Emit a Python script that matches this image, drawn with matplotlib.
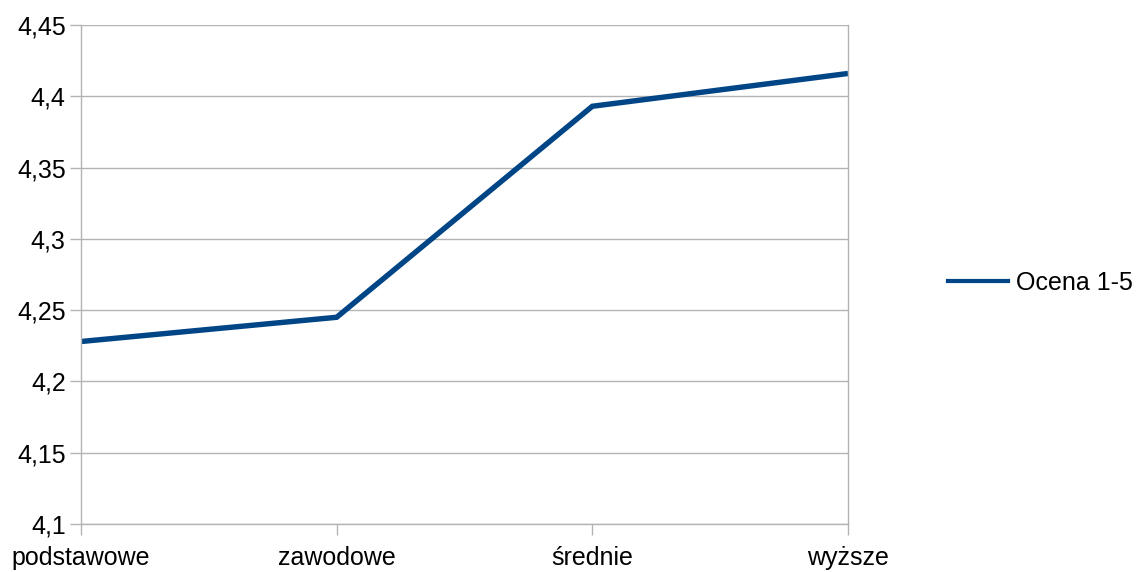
import matplotlib
matplotlib.use("Agg")
import matplotlib.pyplot as plt
from matplotlib.lines import Line2D

categories = ["podstawowe", "zawodowe", "średnie", "wyższe"]
values = [4.228, 4.245, 4.393, 4.416]
yticks = [4.1, 4.15, 4.2, 4.25, 4.3, 4.35, 4.4, 4.45]
ytick_labels = ["4,1", "4,15", "4,2", "4,25", "4,3", "4,35", "4,4", "4,45"]
series_name = "Ocena 1-5"

plt.rcParams['font.family'] = ['Liberation Sans', 'DejaVu Sans']

fig = plt.figure(figsize=(11.39, 5.72), dpi=100)
ax = fig.add_axes([81/1139, 1-524/572, (848-81)/1139, (524-25)/572])

color = "#004586"
ax.plot(range(len(categories)), values, color=color, linewidth=3.9, solid_capstyle='butt', solid_joinstyle='miter')

ax.set_xlim(0, len(categories)-1)
ax.set_ylim(4.1, 4.45)
ax.set_yticks(yticks)
ax.set_yticklabels(ytick_labels)
ax.set_xticks(range(len(categories)))
ax.set_xticklabels(categories)

grid_c = "#b3b3b3"
ax.grid(axis='y', color=grid_c, linewidth=1)
ax.set_axisbelow(True)
for s in ['left', 'right', 'bottom']:
    ax.spines[s].set_color(grid_c)
    ax.spines[s].set_linewidth(1)
ax.spines['top'].set_visible(False)
ax.tick_params(axis='both', colors=grid_c, labelcolor='black', labelsize=18, length=8, width=1)
ax.tick_params(axis='y', pad=3)
ax.tick_params(axis='x', pad=8)

handle = Line2D([], [], color=color, linewidth=3)
fig.legend([handle], [series_name], loc='center left', bbox_to_anchor=(948/1139, 1-283/572),
           frameon=False, fontsize=18, handlelength=2.4, handletextpad=0.32, borderaxespad=0, borderpad=0)

fig.savefig("out.png", dpi=100)
